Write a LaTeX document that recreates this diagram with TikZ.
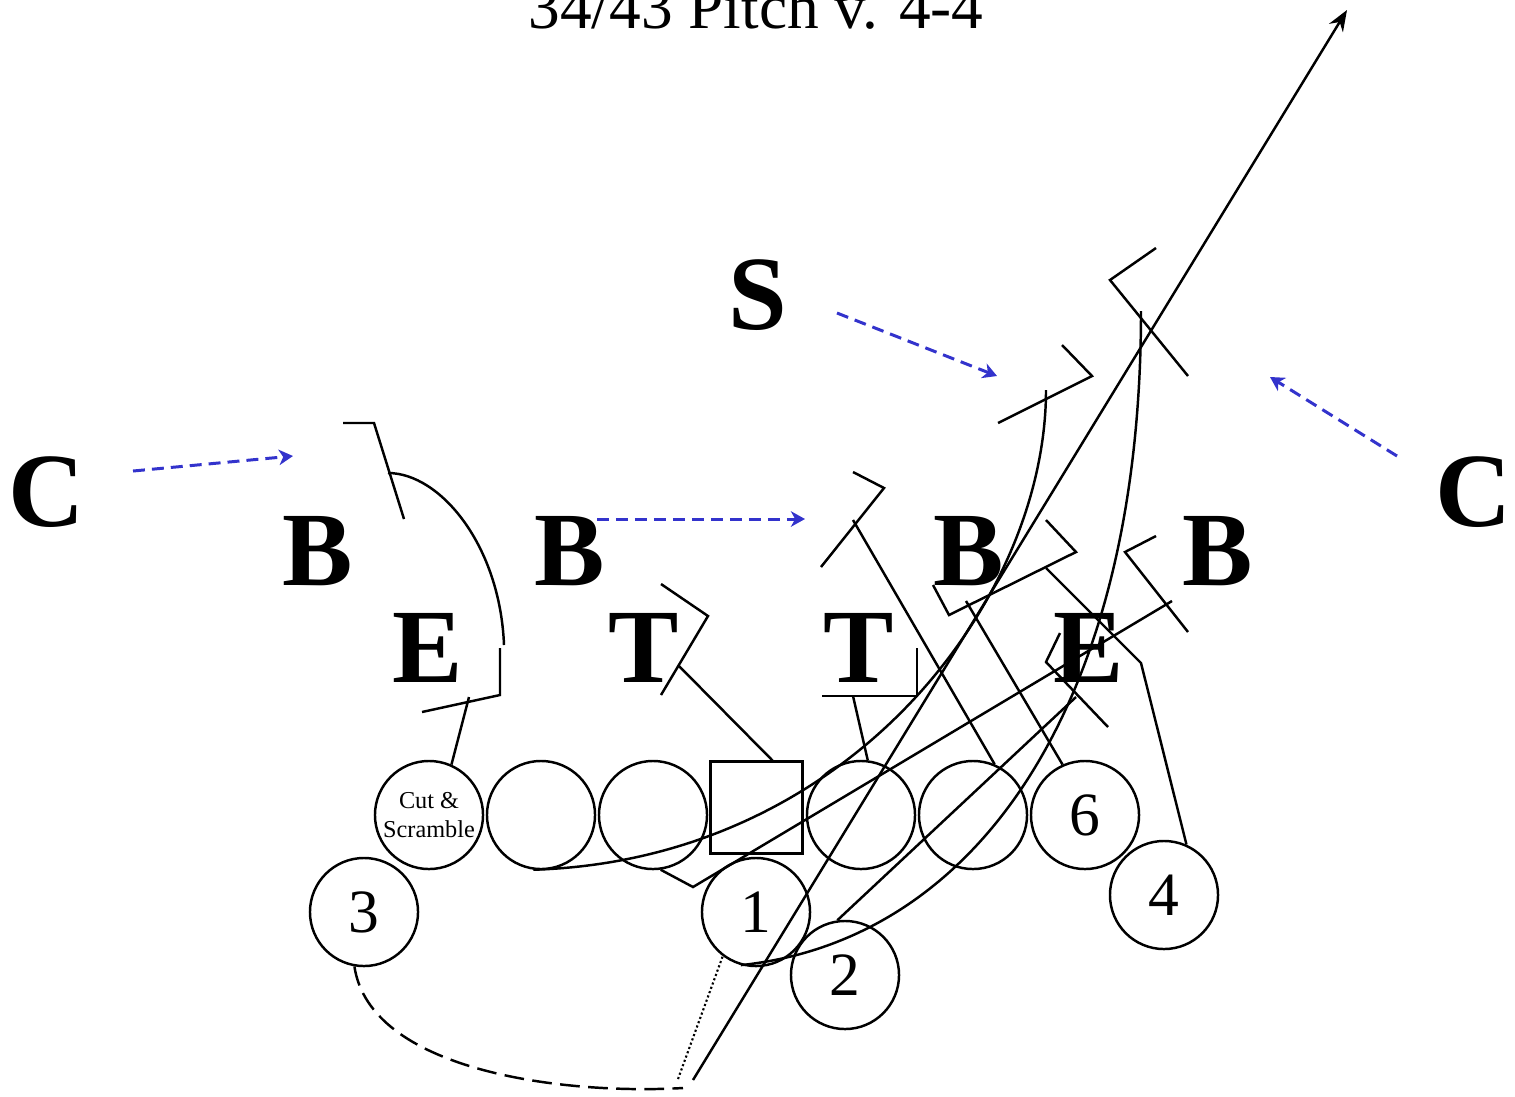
\documentclass[tikz,border=0pt]{standalone}
\usepackage{fontspec}
\setmainfont{Liberation Serif}
\usetikzlibrary{arrows.meta}
\definecolor{blitzblue}{RGB}{51,51,204}

\begin{document}
\begin{tikzpicture}[
  x=0.01cm,y=-0.01cm,
  line width=0.7pt,
  man/.style={draw,circle,minimum size=1.08cm,inner sep=0pt,font=\fontsize{17.5}{18}\selectfont},
  ctr/.style={draw,minimum size=0.92cm,inner sep=0pt},
  def/.style={font=\fontsize{30}{30}\selectfont\bfseries,inner sep=0pt},
  blitz/.style={draw=blitzblue,line width=0.85pt,dash pattern=on 3.4pt off 2pt,
    -{Stealth[length=4pt,width=4.4pt,inset=1.2pt]}},
  run/.style={-{Stealth[length=6pt,width=4.6pt,inset=2pt]}}
]
\useasboundingbox (0,0) rectangle (1515,1096);
\node[font=\fontsize{18}{18}\selectfont,anchor=base] (title) at (756,28) {34/43 Pitch v. 4-4};

% Defense: 4-4 front.
\node[def] (cl) at (47,492) {C};
\node[def] (cr) at (1474,492) {C};
\node[def] (ss) at (758,295) {S};
\node[def] (b1) at (318,551) {B};
\node[def] (b2) at (570,551) {B};
\node[def] (b3) at (969,551) {B};
\node[def] (b4) at (1218,551) {B};
\node[def] (e1) at (428,648) {E};
\node[def] (t1) at (644,648) {T};
\node[def] (t2) at (859,648) {T};
\node[def] (e2) at (1089,648) {E};

% Offense.
\node[man,font=\fontsize{6.9}{8.3}\selectfont,align=center] (lt) at (429,815) {Cut \&\\Scramble};
\node[man] (lg) at (541,815) {};
\node[man] (lg2) at (653,815) {};
\node[ctr] (c) at (756.5,807.5) {};
\node[man] (rg) at (861,815) {};
\node[man] (rt) at (973,815) {};
\node[man] (p6) at (1085,815) {6};
\node[man] (p1) at (756,912) {1};
\node[man] (p2) at (845,975) {2};
\node[man] (p3) at (364,912) {3};
\node[man] (p4) at (1164,895) {4};

% Blitz arrows.
\draw[blitz] (133,471) -- (293,456);
\draw[blitz] (597,519) -- (805,519);
\draw[blitz] (837,313) -- (997,376);
\draw[blitz] (1397,456) -- (1270,377);

% Blocks, left side.
\draw (lt.66) -- (469,697);
\draw (422,712) -- (500,695) -- (500,648);
\draw (343,423) -- (374,423) -- (404,519);
\draw (388,473) .. controls (440,473) and (500,545) .. (504,645);
\draw (773,761) -- (678,665);
\draw (661,695) -- (708,616) -- (661,584);
\draw (lg.262) .. controls (850,860) and (1046,600) .. (1046,390);
\draw (lg2.278) -- (693,887) -- (1172,601);

% Blocks, right side.
\draw (rg.83) -- (853,696);
\draw (822,696) -- (917,696) -- (917,648);
\draw (rt.67) -- (853,520);
\draw (821,567) -- (884,488) -- (853,472);
\draw (p6.114) -- (966,601);
\draw (933,585) -- (949,615) -- (1076,552) -- (1046,520);
\draw (p4.66) -- (1141,663) -- (1046,568);
\draw (p2.98) -- (1076,697);
\draw (1060,633) -- (1046,662) -- (1108,727);
\draw (p1.254) .. controls (980,940) and (1141,700) .. (1141,311);
\draw (998,423) -- (1092,376) -- (1062,345);
\draw (1156,248) -- (1110,280) -- (1188,376);
\draw (1156,536) -- (1125,552) -- (1188,632);

% Pitch and ball carrier.
\draw[dash pattern=on 5.6pt off 2.4pt] (p3.260) .. controls (370,1070) and (560,1095) .. (683,1088);
\draw[line width=0.6pt,dash pattern=on 0.6pt off 0.7pt] (678,1079) -- (p1.233);
\draw[run] (693,1080) -- (1347,10);
\end{tikzpicture}
\end{document}
